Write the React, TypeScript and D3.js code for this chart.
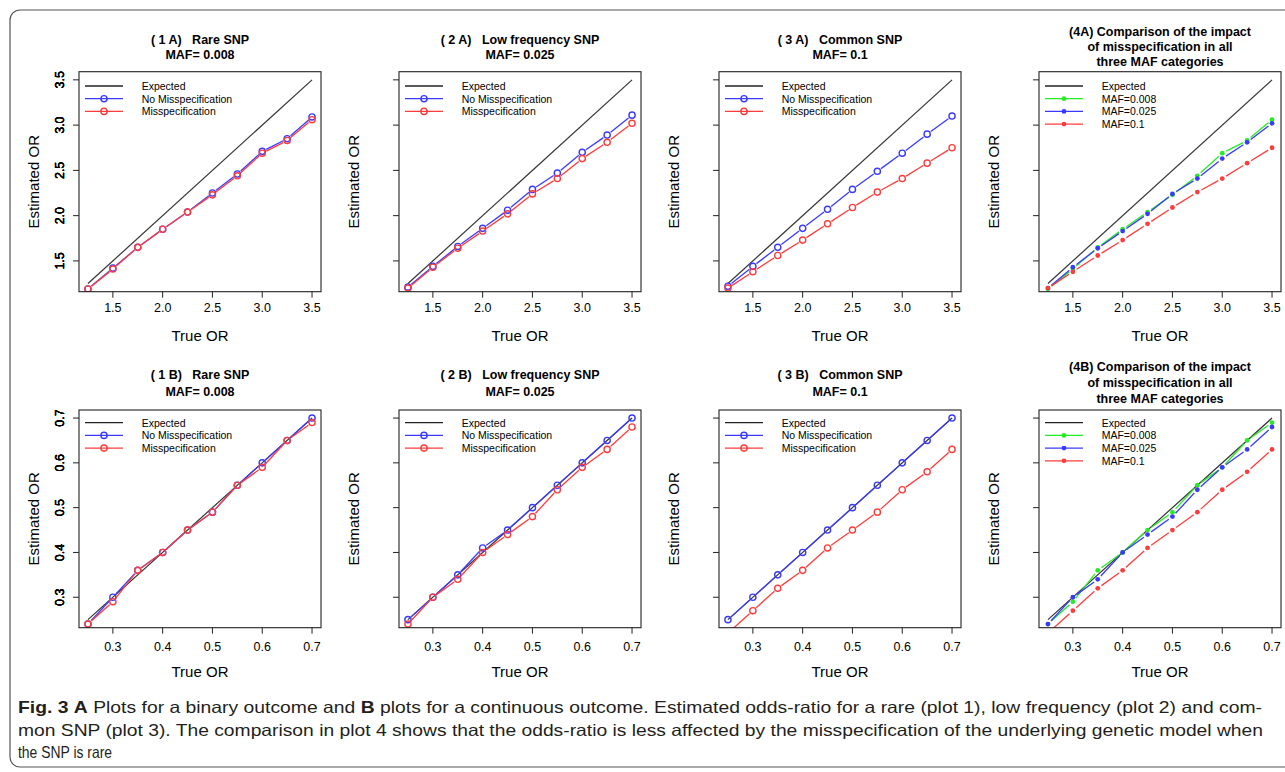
import React from 'react'
import * as d3 from 'd3'

// true odds-ratios on the x axis
const trueOrBinary = [1.25, 1.5, 1.75, 2.0, 2.25, 2.5, 2.75, 3.0, 3.25, 3.5]
const trueOrCont = [0.25, 0.3, 0.35, 0.4, 0.45, 0.5, 0.55, 0.6, 0.65, 0.7]

// binary outcome (row A)
const rareBinNoMis = [1.19, 1.42, 1.65, 1.85, 2.04, 2.25, 2.46, 2.71, 2.85, 3.09]
const rareBinMis = [1.19, 1.41, 1.65, 1.85, 2.04, 2.23, 2.44, 2.69, 2.83, 3.06]
const lowBinNoMis = [1.21, 1.44, 1.66, 1.86, 2.06, 2.29, 2.47, 2.7, 2.89, 3.11]
const lowBinMis = [1.2, 1.43, 1.64, 1.83, 2.02, 2.24, 2.41, 2.63, 2.81, 3.02]
const comBinNoMis = [1.22, 1.44, 1.65, 1.86, 2.07, 2.29, 2.49, 2.69, 2.9, 3.1]
const comBinMis = [1.2, 1.38, 1.56, 1.73, 1.91, 2.09, 2.26, 2.41, 2.58, 2.75]

// continuous outcome (row B)
const rareConNoMis = [0.24, 0.3, 0.36, 0.4, 0.45, 0.49, 0.55, 0.6, 0.65, 0.7]
const rareConMis = [0.24, 0.29, 0.36, 0.4, 0.45, 0.49, 0.55, 0.59, 0.65, 0.69]
const lowConNoMis = [0.25, 0.3, 0.35, 0.41, 0.45, 0.5, 0.55, 0.6, 0.65, 0.7]
const lowConMis = [0.24, 0.3, 0.34, 0.4, 0.44, 0.48, 0.54, 0.59, 0.63, 0.68]
const comConNoMis = [0.25, 0.3, 0.35, 0.4, 0.45, 0.5, 0.55, 0.6, 0.65, 0.7]
const comConMis = [0.22, 0.27, 0.32, 0.36, 0.41, 0.45, 0.49, 0.54, 0.58, 0.63]

const ticksBinary = [1.5, 2.0, 2.5, 3.0, 3.5]
const ticksCont = [0.3, 0.4, 0.5, 0.6, 0.7]

const BLUE = '#3a3aff'
const RED = '#ff3c3c'
const GREEN = '#22ee22'
const FONT = '"Liberation Sans", Arial, Helvetica, sans-serif'

const rows = {
  A: { top: 71.7, bottom: 291.7, xTickY: 308, xTitleY: 335, two: [40, 54.5], three: [32, 47, 62], legTop: 14.3,
       xs: trueOrBinary, ticks: ticksBinary, dom: [1.16, 3.59], fmt: d3.format('.1f') },
  B: { top: 410, bottom: 627.7, xTickY: 646.7, xTitleY: 671.7, two: [375, 391.5], three: [367.3, 383.3, 399.3], legTop: 12.7,
       xs: trueOrCont, ticks: ticksCont, dom: [0.232, 0.718], fmt: d3.format('.1f') },
}

type Series = { name: string, values: number[], color: string, filled: boolean }

const panels = [
  { row: 'A', col: 0, title: ['( 1 A)   Rare SNP', 'MAF= 0.008'], series: [
    { name: 'No Misspecification', values: rareBinNoMis, color: BLUE, filled: false },
    { name: 'Misspecification', values: rareBinMis, color: RED, filled: false }] },
  { row: 'A', col: 1, title: ['( 2 A)   Low frequency SNP', 'MAF= 0.025'], series: [
    { name: 'No Misspecification', values: lowBinNoMis, color: BLUE, filled: false },
    { name: 'Misspecification', values: lowBinMis, color: RED, filled: false }] },
  { row: 'A', col: 2, title: ['( 3 A)   Common SNP', 'MAF= 0.1'], series: [
    { name: 'No Misspecification', values: comBinNoMis, color: BLUE, filled: false },
    { name: 'Misspecification', values: comBinMis, color: RED, filled: false }] },
  { row: 'A', col: 3, title: ['(4A) Comparison of the impact', 'of misspecification in all', 'three MAF categories'], series: [
    { name: 'MAF=0.008', values: rareBinMis, color: GREEN, filled: true },
    { name: 'MAF=0.025', values: lowBinMis, color: BLUE, filled: true },
    { name: 'MAF=0.1', values: comBinMis, color: RED, filled: true }] },
  { row: 'B', col: 0, title: ['( 1 B)   Rare SNP', 'MAF= 0.008'], series: [
    { name: 'No Misspecification', values: rareConNoMis, color: BLUE, filled: false },
    { name: 'Misspecification', values: rareConMis, color: RED, filled: false }] },
  { row: 'B', col: 1, title: ['( 2 B)   Low frequency SNP', 'MAF= 0.025'], series: [
    { name: 'No Misspecification', values: lowConNoMis, color: BLUE, filled: false },
    { name: 'Misspecification', values: lowConMis, color: RED, filled: false }] },
  { row: 'B', col: 2, title: ['( 3 B)   Common SNP', 'MAF= 0.1'], series: [
    { name: 'No Misspecification', values: comConNoMis, color: BLUE, filled: false },
    { name: 'Misspecification', values: comConMis, color: RED, filled: false }] },
  { row: 'B', col: 3, title: ['(4B) Comparison of the impact', 'of misspecification in all', 'three MAF categories'], series: [
    { name: 'MAF=0.008', values: rareConMis, color: GREEN, filled: true },
    { name: 'MAF=0.025', values: lowConMis, color: BLUE, filled: true },
    { name: 'MAF=0.1', values: comConMis, color: RED, filled: true }] },
]

function Panel({ p, idx }: { p: any, idx: number }) {
  const r = rows[p.row as 'A' | 'B']
  const left = 79 + p.col * 320
  const right = left + 242
  const x = d3.scaleLinear().domain(r.dom).range([left, right])
  const y = d3.scaleLinear().domain(r.dom).range([r.bottom, r.top])
  const xs: number[] = r.xs
  const clip = 'clip' + idx
  const gap = 4.5
  const cx = (left + right) / 2
  const titleY = p.title.length === 3 ? r.three : r.two

  // type="b" style: segments stop short of the points
  const segs = (vals: number[]) => {
    const out: any[] = []
    for (let i = 0; i < vals.length - 1; i++) {
      const x0 = x(xs[i]), y0 = y(vals[i]), x1 = x(xs[i + 1]), y1 = y(vals[i + 1])
      const L = Math.hypot(x1 - x0, y1 - y0)
      if (L <= 2 * gap) continue
      const ux = (x1 - x0) / L, uy = (y1 - y0) / L
      out.push([x0 + ux * gap, y0 + uy * gap, x1 - ux * gap, y1 - uy * gap])
    }
    return out
  }

  const legX0 = left + 6, legX1 = left + 44, legXm = left + 25, legTx = left + 62.7
  const legItems = [{ name: 'Expected', color: '#222', filled: null as any }, ...p.series]

  return (
    <g>
      <defs>
        <clipPath id={clip}><rect x={left} y={r.top} width={right - left} height={r.bottom - r.top} /></clipPath>
      </defs>
      {p.title.map((t: string, i: number) => (
        <text key={i} x={cx} y={titleY[i]} textAnchor="middle" dominantBaseline="central"
          fontFamily={FONT} fontWeight="bold" fontSize={12.5} style={{ whiteSpace: 'pre' }}>{t}</text>
      ))}
      <g clipPath={`url(#${clip})`}>
        <line x1={x(xs[0])} y1={y(xs[0])} x2={x(xs[xs.length - 1])} y2={y(xs[xs.length - 1])} stroke="#333" strokeWidth={1.2} />
        {p.series.map((s: Series, si: number) => (
          <g key={si}>
            {segs(s.values).map((sg, k) => (
              <line key={k} x1={sg[0]} y1={sg[1]} x2={sg[2]} y2={sg[3]} stroke={s.color} strokeWidth={1.3} />
            ))}
            {s.values.map((v, k) => s.filled
              ? <circle key={k} cx={x(xs[k])} cy={y(v)} r={2.4} fill={s.color} />
              : <circle key={k} cx={x(xs[k])} cy={y(v)} r={3.1} fill="none" stroke={s.color} strokeWidth={1.4} />)}
          </g>
        ))}
      </g>
      <rect x={left} y={r.top} width={right - left} height={r.bottom - r.top} fill="none" stroke="#222" strokeWidth={1.1} />
      {/* x axis */}
      {r.ticks.map((t: number) => (
        <g key={'x' + t}>
          <line x1={x(t)} x2={x(t)} y1={r.bottom} y2={r.bottom + 6} stroke="#222" />
          <text x={x(t)} y={r.xTickY} textAnchor="middle" dominantBaseline="central" fontFamily={FONT} fontSize={12.5}>{r.fmt(t)}</text>
        </g>
      ))}
      {/* y axis */}
      {r.ticks.map((t: number) => (
        <g key={'y' + t}>
          <line x1={left} x2={left - 6} y1={y(t)} y2={y(t)} stroke="#222" />
          <text transform={`translate(60,${y(t)}) rotate(-90)`} textAnchor="middle" dominantBaseline="central"
            fontFamily={FONT} fontSize={12.5}>{r.fmt(t)}</text>
        </g>
      ))}
      <text x={cx} y={r.xTitleY} textAnchor="middle" dominantBaseline="central" fontFamily={FONT} fontSize={15}>True OR</text>
      <text transform={`translate(${33 + p.col * 320},${(r.top + r.bottom) / 2}) rotate(-90)`} textAnchor="middle"
        dominantBaseline="central" fontFamily={FONT} fontSize={15}>Estimated OR</text>
      {/* legend */}
      {legItems.map((it: any, i: number) => {
        const ly = r.top + r.legTop + i * 12.7
        return (
          <g key={'l' + i}>
            <line x1={legX0} x2={legX1} y1={ly} y2={ly} stroke={it.color} strokeWidth={1.3} />
            {it.filled === true && <circle cx={legXm} cy={ly} r={2.4} fill={it.color} />}
            {it.filled === false && <circle cx={legXm} cy={ly} r={3.1} fill="none" stroke={it.color} strokeWidth={1.4} />}
            <text x={legTx} y={ly} dominantBaseline="central" fontFamily={FONT} fontSize={10.5}>{it.name}</text>
          </g>
        )
      })}
    </g>
  )
}

const CAP_FONT = '"Liberation Sans Narrow", "Liberation Sans", Arial, sans-serif'

export default function App() {
  return (
    <div style={{ position: 'absolute', left: 0, top: 0 }}>
      <svg width={1285} height={772} style={{ display: 'block', background: '#fff' }}>
        <rect x={10} y={10} width={1320} height={757} rx={10} fill="none" stroke="#555" strokeWidth={1.2} />
        {panels.map((p, i) => <Panel key={i} p={p} idx={i} />)}
        <g fontFamily={CAP_FONT} fontSize={16.5} fill="#231f20">
          <text x={18} y={707} dominantBaseline="central" textLength={1244} lengthAdjust="spacingAndGlyphs">
            <tspan fontWeight="bold">Fig. 3</tspan>{'  '}<tspan fontWeight="bold">A</tspan> Plots for a binary outcome and <tspan fontWeight="bold">B</tspan> plots for a continuous outcome. Estimated odds-ratio for a rare (plot 1), low frequency (plot 2) and com-
          </text>
          <text x={18} y={730} dominantBaseline="central" textLength={1245} lengthAdjust="spacingAndGlyphs">
            mon SNP (plot 3). The comparison in plot 4 shows that the odds-ratio is less affected by the misspecification of the underlying genetic model when
          </text>
          <text x={18} y={752} dominantBaseline="central" textLength={94} lengthAdjust="spacingAndGlyphs">
            the SNP is rare
          </text>
        </g>
      </svg>
    </div>
  )
}
